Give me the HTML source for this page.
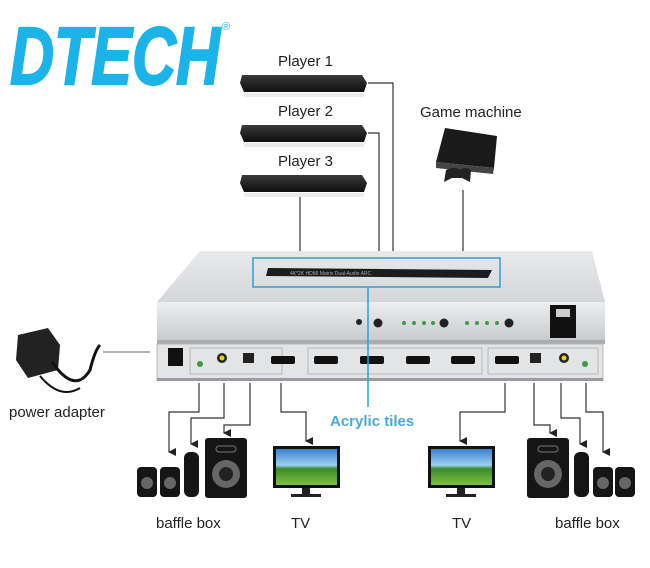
<!DOCTYPE html>
<html><head><meta charset="utf-8"><style>
html,body{margin:0;padding:0;background:#fff}
svg{display:block}
text{font-family:"Liberation Sans",Arial,sans-serif}
</style></head><body>
<svg width="650" height="568" viewBox="0 0 650 568" xmlns="http://www.w3.org/2000/svg">
<defs>
<marker id="ar" markerWidth="8" markerHeight="8" refX="4" refY="7" orient="auto" markerUnits="userSpaceOnUse">
<path d="M0,0 L8,0 L4,8 Z" fill="#222"/></marker>
<linearGradient id="top" x1="0" y1="0" x2="0" y2="1"><stop offset="0" stop-color="#e8e9eb"/><stop offset="1" stop-color="#d4d6d9"/></linearGradient>
<linearGradient id="front" x1="0" y1="0" x2="0" y2="1"><stop offset="0" stop-color="#eceef0"/><stop offset="1" stop-color="#c9cbce"/></linearGradient>
<linearGradient id="scr" x1="0" y1="0" x2="0" y2="1"><stop offset="0" stop-color="#3a7fd0"/><stop offset=".45" stop-color="#9cd0f0"/><stop offset=".55" stop-color="#3a8a2a"/><stop offset="1" stop-color="#7fc040"/></linearGradient>
<linearGradient id="pl" x1="0" y1="0" x2="0" y2="1"><stop offset="0" stop-color="#3a3a3a"/><stop offset="1" stop-color="#0e0e0e"/></linearGradient>
</defs>

<!-- Logo -->
<text x="10" y="84" font-size="82" font-weight="bold" font-style="italic" fill="#1cb4e8" stroke="#1cb4e8" stroke-width="2" textLength="210" lengthAdjust="spacingAndGlyphs">DTECH</text>
<text x="222" y="30" font-size="11" fill="#1cb4e8">®</text>

<!-- Players -->
<g font-size="15" fill="#222">
<text x="278" y="66">Player 1</text>
<text x="278" y="116">Player 2</text>
<text x="278" y="166">Player 3</text>
<text x="420" y="117">Game machine</text>
</g>
<g fill="url(#pl)">
<path d="M242,75 L362,75 L367,83 L364,92 L244,92 L240,83 Z"/>
<path d="M242,125 L362,125 L367,133 L364,142 L244,142 L240,133 Z"/>
<path d="M242,175 L362,175 L367,183 L364,192 L244,192 L240,183 Z"/>
</g>
<g fill="#ddd" opacity=".6"><rect x="244" y="93" width="120" height="4"/><rect x="244" y="143" width="120" height="4"/><rect x="244" y="193" width="120" height="4"/></g>
<!-- PS3 -->
<path d="M445,128 L497,136 L494,168 L436,162 Z" fill="#1a1a1a"/>
<path d="M436,162 L494,168 L493,174 L436,168 Z" fill="#444"/>
<path d="M446,170 Q455,166 460,170 Q465,166 471,170 L470,182 L462,178 L452,178 L444,182 Z" fill="#222"/>

<!-- Input connectors -->
<g stroke="#333" stroke-width="1.2" fill="none">
<polyline points="368,83 393,83 393,287 415,287 415,350" marker-end="url(#ar)"/>
<polyline points="368,133 379,133 379,350" marker-end="url(#ar)"/>
<polyline points="300,197 300,290 327,290 327,350" marker-end="url(#ar)"/>
<polyline points="463,190 463,350" marker-end="url(#ar)"/>
</g>

<!-- Device -->
<path d="M200,251 L592,251 L605,302 L157,302 Z" fill="url(#top)"/>
<rect x="157" y="302" width="448" height="38" fill="url(#front)"/>
<rect x="157" y="340" width="448" height="4" fill="#a9abae"/>
<rect x="157" y="344" width="446" height="36" fill="#e2e4e6" stroke="#b5b7ba"/>
<rect x="157" y="378" width="446" height="3" fill="#9a9c9f"/>
<rect x="253" y="258" width="247" height="29" fill="none" stroke="#2a9fd8" stroke-width="1.5"/>
<path d="M268,268 L492,270 L488,278 L266,276 Z" fill="#1c1c1c"/>
<text x="290" y="275" font-size="5" fill="#aaa">4K*2K HDMI Matrix Dual-Audio ARC</text>
<g fill="#222"><circle cx="359" cy="322" r="3"/><circle cx="378" cy="323" r="4.5"/><circle cx="444" cy="323" r="4.5"/><circle cx="509" cy="323" r="4.5"/></g>
<g fill="#3a9a4a"><circle cx="404" cy="323" r="2"/><circle cx="414" cy="323" r="2"/><circle cx="424" cy="323" r="2"/><circle cx="433" cy="323" r="2"/><circle cx="467" cy="323" r="2"/><circle cx="477" cy="323" r="2"/><circle cx="487" cy="323" r="2"/><circle cx="497" cy="323" r="2"/></g>
<rect x="550" y="305" width="26" height="33" fill="#111"/><rect x="556" y="309" width="14" height="8" fill="#ccc"/>
<rect x="168" y="348" width="15" height="18" fill="#111"/>
<rect x="190" y="348" width="92" height="26" fill="none" stroke="#999" stroke-width=".6"/>
<rect x="308" y="348" width="174" height="26" fill="none" stroke="#999" stroke-width=".6"/>
<rect x="488" y="348" width="110" height="26" fill="none" stroke="#999" stroke-width=".6"/>
<circle cx="200" cy="364" r="3" fill="#3a9a4a"/><circle cx="222" cy="358" r="5" fill="#222"/><circle cx="222" cy="358" r="2.5" fill="#f0d000"/>
<rect x="243" y="353" width="11" height="10" fill="#222"/>
<g fill="#111"><rect x="271" y="356" width="24" height="8" rx="2"/><rect x="314" y="356" width="24" height="8" rx="2"/><rect x="360" y="356" width="24" height="8" rx="2"/><rect x="406" y="356" width="24" height="8" rx="2"/><rect x="451" y="356" width="24" height="8" rx="2"/><rect x="495" y="356" width="24" height="8" rx="2"/></g>
<rect x="530" y="353" width="11" height="10" fill="#222"/>
<circle cx="564" cy="358" r="5" fill="#222"/><circle cx="564" cy="358" r="2.5" fill="#f0d000"/><circle cx="585" cy="364" r="3" fill="#3a9a4a"/>

<line x1="368" y1="287" x2="368" y2="407" stroke="#2a9fd8" stroke-width="1.5"/>
<text x="330" y="426" font-size="15" font-weight="bold" fill="#4aa8e0">Acrylic tiles</text>

<path d="M18,335 L48,328 L60,345 L58,370 L28,378 L16,360 Z" fill="#222"/>
<path d="M52,362 Q75,395 90,370 Q95,350 100,345" fill="none" stroke="#111" stroke-width="3"/>
<path d="M40,376 Q60,400 80,388" fill="none" stroke="#111" stroke-width="2"/>
<line x1="103" y1="352" x2="150" y2="352" stroke="#666"/>
<text x="9" y="417" font-size="15" fill="#222">power adapter</text>

<g stroke="#333" stroke-width="1.2" fill="none">
<polyline points="199,383 199,412 169,412 169,452" marker-end="url(#ar)"/>
<polyline points="224,383 224,418 191,418 191,444" marker-end="url(#ar)"/>
<polyline points="250,383 250,425 224,425 224,433" marker-end="url(#ar)"/>
<polyline points="281,383 281,412 306,412 306,441" marker-end="url(#ar)"/>
<polyline points="505,383 505,412 460,412 460,441" marker-end="url(#ar)"/>
<polyline points="534,383 534,425 550,425 550,433" marker-end="url(#ar)"/>
<polyline points="561,383 561,418 580,418 580,444" marker-end="url(#ar)"/>
<polyline points="586,383 586,412 603,412 603,452" marker-end="url(#ar)"/>
</g>

<g fill="#151515">
<rect x="137" y="467" width="20" height="30" rx="4"/><rect x="160" y="467" width="20" height="30" rx="4"/>
<rect x="184" y="452" width="15" height="45" rx="6"/>
<rect x="205" y="438" width="42" height="60" rx="3"/>
<rect x="527" y="438" width="42" height="60" rx="3"/>
<rect x="574" y="452" width="15" height="45" rx="6"/>
<rect x="593" y="467" width="20" height="30" rx="4"/><rect x="615" y="467" width="20" height="30" rx="4"/>
</g>
<g fill="#666"><circle cx="147" cy="483" r="6"/><circle cx="170" cy="483" r="6"/><circle cx="226" cy="474" r="14"/><circle cx="548" cy="474" r="14"/><circle cx="603" cy="483" r="6"/><circle cx="625" cy="483" r="6"/></g>
<g fill="#222"><circle cx="226" cy="474" r="7"/><circle cx="548" cy="474" r="7"/></g>
<g fill="none" stroke="#777"><rect x="216" y="446" width="20" height="6" rx="3"/><rect x="538" y="446" width="20" height="6" rx="3"/></g>

<rect x="273" y="446" width="67" height="42" fill="#111"/><rect x="276" y="449" width="61" height="36" fill="url(#scr)"/>
<rect x="302" y="488" width="8" height="6" fill="#222"/><rect x="291" y="494" width="30" height="3" fill="#222"/>
<rect x="428" y="446" width="67" height="42" fill="#111"/><rect x="431" y="449" width="61" height="36" fill="url(#scr)"/>
<rect x="457" y="488" width="8" height="6" fill="#222"/><rect x="446" y="494" width="30" height="3" fill="#222"/>

<g font-size="15" fill="#222">
<text x="156" y="528">baffle box</text>
<text x="291" y="528">TV</text>
<text x="452" y="528">TV</text>
<text x="555" y="528">baffle box</text>
</g>
</svg>
</body></html>
